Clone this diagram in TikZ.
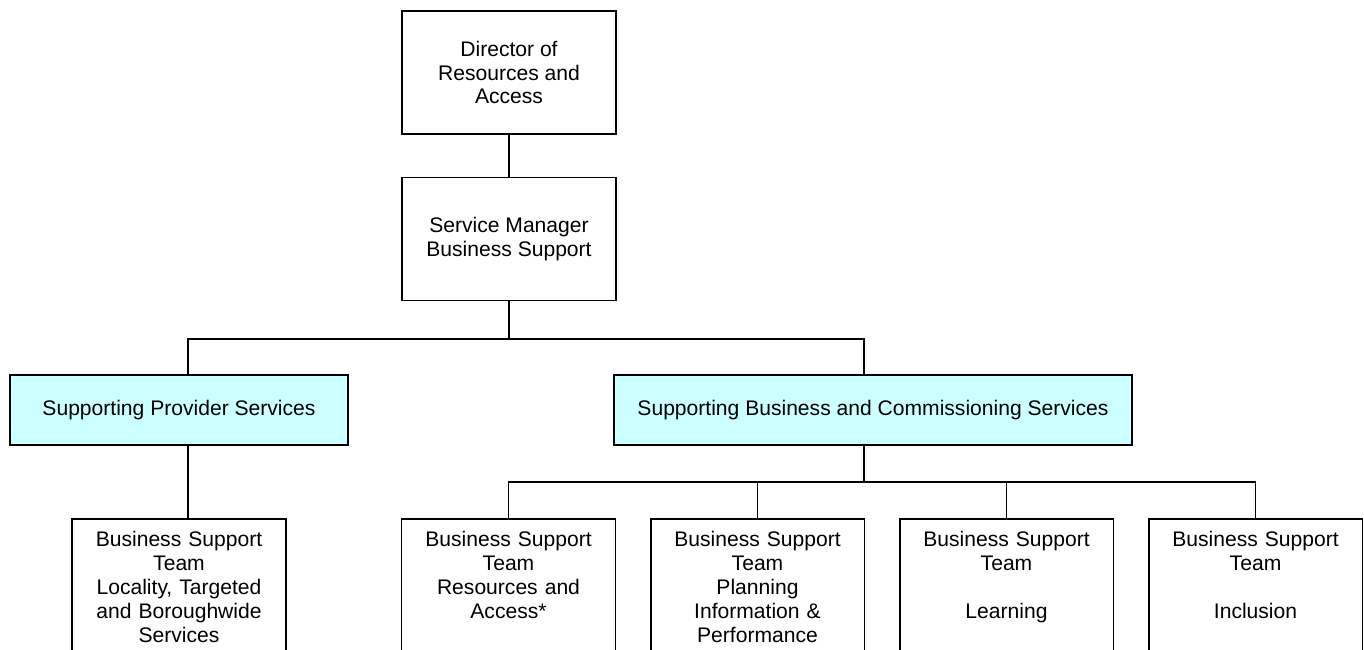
\documentclass[tikz,border=0pt]{standalone}
\usepackage{fontspec}
\setmainfont{Liberation Sans}
\usepackage{tikz}
\usetikzlibrary{positioning}
\definecolor{paleblue}{HTML}{CCFFFF}
\tikzset{every node/.style={font=\fontsize{12}{13.6}\selectfont},
	post/.style={draw, align=center, minimum width=4.28cm, minimum height=2.46cm},
	group/.style={draw, fill=paleblue, minimum height=1.4cm},
	team/.style={draw, anchor=north, align=center, text width=4.0cm, inner xsep=0.14cm, inner ysep=7pt, text depth=4cm}}

\begin{document}
\begin{tikzpicture}[x=0.02cm, y=-0.02cm, line width=1.1pt]
	\clip (0,0) rectangle (1364,649);
	\node[post] (dir) at (509,72.5) {Director of\\Resources and\\Access};
	\node[post] (mgr) at (509,239) {Service Manager\\Business Support};
	\node[group, minimum width=6.76cm] (prov) at (179,410) {Supporting Provider Services};
	\node[group, minimum width=10.36cm] (comm) at (873,410) {Supporting Business and Commissioning Services};
	\node[team] (loc) at (179,518) {Business Support\\Team\\Locality, Targeted\\and Boroughwide\\Services};
	\node[team] (res) at (508.5,518) {Business Support\\Team\\Resources and\\Access*};
	\node[team] (plan) at (757.5,518) {Business Support\\Team\\Planning\\Information \&\\Performance};
	\node[team] (learn) at (1006.5,518) {Business Support\\Team\\[13.6pt]Learning};
	\node[team] (incl) at (1255.5,518) {Business Support\\Team\\[13.6pt]Inclusion};
	\coordinate (bar) at (509,339);
	\coordinate (split) at (864,482);
	% reporting lines
	\draw (dir) -- (mgr);
	\draw (mgr) -- (bar);
	\draw ([xshift=.18cm]prov.north) |- (bar) -| ([xshift=-.18cm]comm.north);
	\draw ([xshift=.18cm]prov.south) -- ([xshift=.18cm]loc.north);
	\draw ([xshift=-.18cm]comm.south) -- (split);
	\foreach \t in {res, plan, learn, incl}
		\draw (split) -| (\t.north);
\end{tikzpicture}
\end{document}
